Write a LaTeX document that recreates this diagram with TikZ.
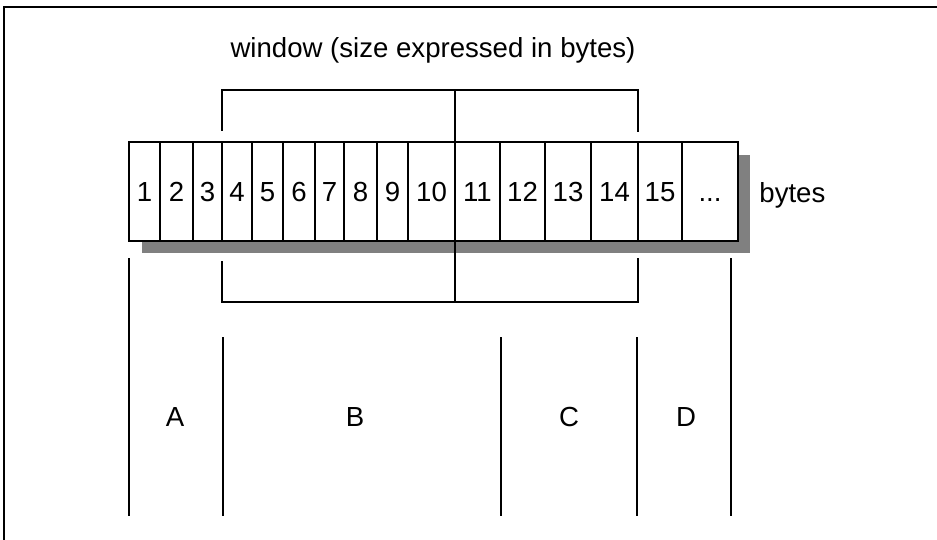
\documentclass[tikz,border=0pt]{standalone}
\usepackage{fontspec}
\setmainfont{Liberation Sans}
\usetikzlibrary{positioning, calc}
\newcommand{\celldots}{...}
\tikzset{
  cell/.style={rectangle,draw,fill=white,line width=1pt,outer sep=0pt,inner sep=0pt,minimum height=49.5pt,text height=10pt,text depth=0pt,font=\fontsize{13.8}{16}\selectfont},
  lbl/.style={inner sep=0pt,font=\fontsize{13.8}{16}\selectfont},
  line/.style={line width=1pt}
}

\begin{document}
\begin{tikzpicture}[x=0.5pt,y=-0.5pt]
\useasboundingbox (0,0) rectangle (937,540);
% frame (only top and left edges show)
\draw[line width=0.8pt] (937,7) -- (4,7) -- (4,540);
% shadow behind the byte row
\fill[black!50] (142,155) rectangle (750,253);
% byte cells
\node[cell, minimum width=15.5pt, anchor=west] (c1) at (129,191.5) {1};
\foreach \w/\t [count=\i from 2, remember=\i as \j (initially 1)] in
  {33/2, 29/3, 30/4, 31/5, 32/6, 29/7, 33/8, 31/9, 47/10,
   45/11, 45/12, 46/13, 47/14, 44/15, 56/\celldots}
  \node[cell, minimum width={\w*0.5pt}, right=0pt of c\j] (c\i) {\t};
% window brackets
\coordinate (wtop) at (0,90);
\coordinate (wbot) at (0,302);
\coordinate (tl) at ($(c4.north west)+(0,-11)$);
\coordinate (tr) at ($(c14.north east)+(0,-10)$);
\coordinate (bl) at ($(c4.south west)+(0,20)$);
\coordinate (br) at ($(c14.south east)+(0,17)$);
\draw[line] (tl) -- (tl |- wtop) -- (tr |- wtop) -- (tr);
\draw[line] (bl) -- (bl |- wbot) -- (br |- wbot) -- (br);
\draw[line] (c10.north east |- wtop) -- (c10.south east |- wbot);
% region dividers
\foreach \x/\y in {129/258, 223/337, 501/337, 637/337, 731/258}
  \draw[line] (\x,\y) -- (\x,516);
% texts
\node[lbl, anchor=base] (title) at (433,58) {window (size expressed in bytes)};
\node[lbl, anchor=base west] (bytes) at (759,202) {bytes};
\foreach \x/\t in {175/A, 355/B, 569/C, 686/D}
  \node[lbl] (reg\t) at (\x,417) {\t};
\end{tikzpicture}
\end{document}
